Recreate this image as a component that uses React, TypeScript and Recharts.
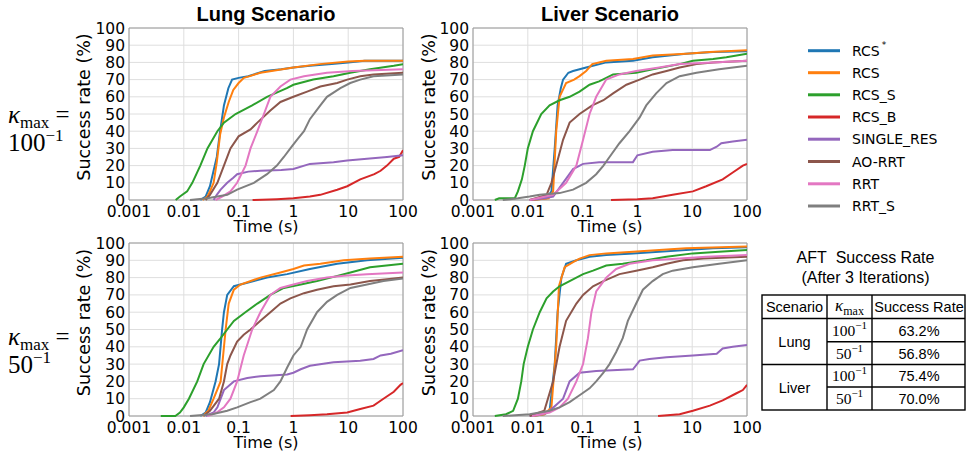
import React from 'react';
import { LineChart, Line, XAxis, YAxis, CartesianGrid, ReferenceArea } from 'recharts';

type Pt = [number, number];

const SERIES_NAMES = ['RCS*', 'RCS', 'RCS_S', 'RCS_B', 'SINGLE_RES', 'AO-RRT', 'RRT', 'RRT_S'];
const SERIES_COLORS = ['#1f77b4', '#ff7f0e', '#2ca02c', '#d62728', '#9467bd', '#8c564b', '#e377c2', '#7f7f7f'];
const X_TICKS = [0.001, 0.01, 0.1, 1, 10, 100];
const Y_TICKS = [0, 10, 20, 30, 40, 50, 60, 70, 80, 90, 100];
const COLUMN_TITLES = ['Lung Scenario', 'Liver Scenario'];
const ROW_KAPPA = ['100', '50'];
const TABLE_SCENARIOS = ['Lung', 'Liver'];
const TABLE_KAPPA = ['100', '50', '100', '50'];
const TABLE_RATES = ['63.2%', '56.8%', '75.4%', '70.0%'];

// ---------- Lung, kappa_max = 100^-1 ----------
const LUNG100_RCS_STAR: Pt[] = [[0.02,0],[0.025,2],[0.03,8],[0.04,25],[0.046,40],[0.054,55],[0.065,65],[0.076,70],[0.1,71],[0.15,72],[0.3,75],[0.6,76],[1,77],[2,78],[5,79],[10,80],[20,81],[100,81]];
const LUNG100_RCS: Pt[] = [[0.022,0],[0.027,2],[0.03,5],[0.035,10],[0.04,22],[0.046,38],[0.054,48],[0.066,57],[0.08,64],[0.1,68],[0.125,71],[0.16,72],[0.25,74],[0.4,75],[1,77],[3,79],[10,80.5],[20,81],[100,81]];
const LUNG100_RCS_S: Pt[] = [[0.0071,0],[0.0085,2],[0.0115,5],[0.0143,10],[0.02,20],[0.027,30],[0.041,40],[0.054,45],[0.088,50],[0.177,55],[0.33,60],[0.76,65],[1,67],[2.3,70],[5.4,72],[10.9,74],[25,76],[68,78],[100,79]];
const LUNG100_RCS_B: Pt[] = [[0.18,0],[0.5,0.5],[1,1],[2,2],[3.1,3],[6.3,6],[9.6,8],[16.6,12],[30,15],[39,17],[51,20],[68,24],[85,25],[100,29]];
const LUNG100_SINGLE: Pt[] = [[0.035,0],[0.04,3],[0.047,6],[0.062,10],[0.08,13],[0.094,15],[0.15,16.5],[0.25,17],[0.6,17.5],[1,18],[2,21],[5.4,22],[9.6,23],[22,24],[51,25],[100,26]];
const LUNG100_AORRT: Pt[] = [[0.025,0],[0.03,3],[0.041,10],[0.054,20],[0.071,30],[0.1,37],[0.165,41],[0.22,45],[0.38,52],[0.58,57],[1,60],[1.78,63],[3.1,66],[6.3,68],[9.6,70],[16.6,72],[29,73],[100,74]];
const LUNG100_RRT: Pt[] = [[0.038,0],[0.05,2],[0.071,5],[0.094,10],[0.134,20],[0.165,30],[0.22,40],[0.29,50],[0.38,60],[0.58,66],[0.88,70],[1.56,72],[4.1,74],[12,75],[100,76]];
const LUNG100_RRT_S: Pt[] = [[0.013,0],[0.027,1],[0.062,3],[0.094,6],[0.19,10],[0.33,15],[0.5,20],[0.67,25],[0.88,30],[1.16,35],[1.56,40],[2,47],[3.1,55],[4.1,60],[7.2,65],[10.9,68],[16.6,70],[29,72],[100,73]];

// ---------- Liver, kappa_max = 100^-1 ----------
const LIVER100_RCS_STAR: Pt[] = [[0.012,0],[0.022,1],[0.027,5],[0.031,30],[0.035,55],[0.04,65],[0.044,70],[0.055,74],[0.067,75],[0.116,77],[0.27,80],[0.83,81],[1.9,83],[7.7,85],[24,86],[100,86.5]];
const LIVER100_RCS: Pt[] = [[0.012,0],[0.024,1],[0.029,5],[0.033,40],[0.038,60],[0.05,68],[0.07,70],[0.088,72],[0.116,75],[0.15,79],[0.27,81],[0.83,82],[1.9,84],[7.7,85],[21,86],[100,87]];
const LIVER100_RCS_S: Pt[] = [[0.0025,0],[0.003,1],[0.0058,1],[0.0066,5],[0.0078,12],[0.0088,20],[0.01,30],[0.0124,40],[0.0176,50],[0.025,55],[0.038,58],[0.058,60],[0.088,63],[0.134,67],[0.2,69],[0.27,71],[0.36,73],[0.95,74],[1.9,76],[5.9,79],[10.3,81],[24,82],[42,83],[100,85]];
const LIVER100_RCS_B: Pt[] = [[0.33,0],[1,0.5],[1.9,1],[4.4,3],[10.3,5],[18,8],[36,12],[55,16],[84,20],[100,21]];
const LIVER100_SINGLE: Pt[] = [[0.0108,0],[0.02,1],[0.029,2],[0.044,10],[0.067,18],[0.102,21],[0.2,22],[0.83,22],[1,26],[1.9,28],[4.4,29],[21,29],[28,31],[34,33],[55,34],[100,35]];
const LIVER100_AORRT: Pt[] = [[0.0108,0],[0.022,3],[0.027,10],[0.033,20],[0.044,35],[0.058,45],[0.088,50],[0.15,55],[0.24,58],[0.36,62],[0.63,67],[1.1,70],[1.9,73],[3.4,75],[5.9,77],[12,79],[24,80],[100,81]];
const LIVER100_RRT: Pt[] = [[0.0108,0],[0.029,3],[0.05,10],[0.077,20],[0.102,35],[0.134,50],[0.177,60],[0.27,70],[0.47,73],[0.95,75],[2.5,77],[5.9,79],[24,80],[100,81]];
const LIVER100_RRT_S: Pt[] = [[0.0035,0],[0.0066,1],[0.0108,2],[0.0165,3],[0.038,4],[0.067,6],[0.116,10],[0.177,15],[0.24,20],[0.31,25],[0.47,33],[0.72,40],[1.1,48],[1.45,55],[2.2,62],[3.4,68],[5.9,72],[12,74],[31,76],[100,78]];

// ---------- Lung, kappa_max = 50^-1 ----------
const LUNG50_RCS_STAR: Pt[] = [[0.02,0],[0.025,2],[0.03,8],[0.038,20],[0.044,30],[0.05,50],[0.054,60],[0.062,70],[0.082,75],[0.144,77],[0.33,80],[0.77,82],[2,85],[6.3,88],[22,90],[100,91.5]];
const LUNG50_RCS: Pt[] = [[0.022,0],[0.028,3],[0.035,10],[0.047,20],[0.058,50],[0.066,65],[0.082,73],[0.108,76],[0.25,80],[0.58,83],[1,85],[1.56,87],[3.1,88],[8.3,90],[25,91],[100,92]];
const LUNG50_RCS_S: Pt[] = [[0.0038,0],[0.007,0],[0.0085,2],[0.01,5],[0.0124,10],[0.0176,20],[0.023,30],[0.035,40],[0.047,45],[0.062,50],[0.082,55],[0.133,60],[0.22,65],[0.38,70],[0.67,74],[1.36,76],[2.7,78],[4.8,80],[11,83],[25,86],[100,88]];
const LUNG50_RCS_B: Pt[] = [[0.89,0],[2,0.5],[4.1,1],[9.6,2],[16.6,4],[29,6],[44,10],[68,14],[90,18],[100,19]];
const LUNG50_SINGLE: Pt[] = [[0.025,0],[0.035,2],[0.041,5],[0.054,15],[0.082,20],[0.144,22],[0.25,23],[0.77,24],[1,25],[1.36,27],[2,29],[5.4,31],[16.6,32],[29,33],[39,35],[60,36],[100,38]];
const LUNG50_AORRT: Pt[] = [[0.023,0],[0.03,3],[0.044,10],[0.054,20],[0.062,30],[0.071,35],[0.094,43],[0.124,47],[0.165,50],[0.25,55],[0.38,60],[0.58,65],[0.88,68],[1.56,71],[2.7,73],[5.4,75],[11,76],[25,78],[51,79],[100,80]];
const LUNG50_RRT: Pt[] = [[0.027,0],[0.04,2],[0.054,5],[0.071,10],[0.094,20],[0.124,35],[0.177,50],[0.25,60],[0.38,70],[0.58,74],[1,76],[1.78,78],[4.1,80],[8.3,81],[22,82],[100,83]];
const LUNG50_RRT_S: Pt[] = [[0.013,0],[0.033,1],[0.062,3],[0.094,5],[0.165,8],[0.25,10],[0.44,15],[0.58,20],[0.77,28],[1,35],[1.36,40],[1.78,50],[2.7,60],[4.1,66],[6.3,70],[11,74],[22,76],[44,78],[100,79.5]];

// ---------- Liver, kappa_max = 50^-1 ----------
const LIVER50_RCS_STAR: Pt[] = [[0.012,0],[0.02,1],[0.025,3],[0.031,30],[0.035,60],[0.041,80],[0.05,88],[0.077,90],[0.134,92],[0.27,93],[0.83,94],[2.5,95],[7.7,96],[24,97],[100,97.5]];
const LIVER50_RCS: Pt[] = [[0.012,0],[0.02,1],[0.027,5],[0.033,40],[0.037,75],[0.047,86],[0.067,89],[0.088,91],[0.134,93],[0.27,94],[0.83,95],[2.5,96],[7.7,97],[100,98]];
const LIVER50_RCS_S: Pt[] = [[0.0025,0],[0.004,1],[0.0054,3],[0.0066,10],[0.0076,20],[0.0084,30],[0.01,40],[0.0124,50],[0.0165,60],[0.022,68],[0.029,72],[0.038,75],[0.058,78],[0.102,82],[0.155,84],[0.27,87],[0.54,88],[1.45,90],[3.4,92],[10.3,94],[31,95],[100,96]];
const LIVER50_RCS_B: Pt[] = [[2.38,0],[5.9,1],[10.3,3],[21,6],[36,9],[63,13],[84,15],[100,18]];
const LIVER50_SINGLE: Pt[] = [[0.0108,0],[0.018,1],[0.025,3],[0.044,10],[0.058,20],[0.088,25],[0.177,26],[0.83,27],[1.1,32],[1.66,33],[3.4,34],[10.3,35],[28,36],[36,39],[55,40],[100,41]];
const LIVER50_AORRT: Pt[] = [[0.0108,0],[0.02,3],[0.029,20],[0.038,40],[0.05,55],[0.077,65],[0.102,70],[0.155,75],[0.24,78],[0.47,82],[0.95,84],[1.9,86],[3.4,88],[6.8,90],[16,91],[100,92]];
const LIVER50_RRT: Pt[] = [[0.012,0],[0.025,2],[0.038,5],[0.054,10],[0.077,20],[0.102,30],[0.125,45],[0.145,60],[0.177,72],[0.27,80],[0.41,85],[0.72,88],[1.9,90],[5.9,91],[18,92],[100,93]];
const LIVER50_RRT_S: Pt[] = [[0.0035,0],[0.0108,1],[0.025,3],[0.038,5],[0.058,8],[0.088,12],[0.134,16],[0.177,20],[0.24,25],[0.31,30],[0.41,37],[0.54,45],[0.67,55],[0.95,65],[1.26,73],[1.9,78],[2.9,82],[4.4,84],[10.3,86],[31,88],[100,90]];

const LUNG100 = [LUNG100_RCS_STAR, LUNG100_RCS, LUNG100_RCS_S, LUNG100_RCS_B, LUNG100_SINGLE, LUNG100_AORRT, LUNG100_RRT, LUNG100_RRT_S];
const LIVER100 = [LIVER100_RCS_STAR, LIVER100_RCS, LIVER100_RCS_S, LIVER100_RCS_B, LIVER100_SINGLE, LIVER100_AORRT, LIVER100_RRT, LIVER100_RRT_S];
const LUNG50 = [LUNG50_RCS_STAR, LUNG50_RCS, LUNG50_RCS_S, LUNG50_RCS_B, LUNG50_SINGLE, LUNG50_AORRT, LUNG50_RRT, LUNG50_RRT_S];
const LIVER50 = [LIVER50_RCS_STAR, LIVER50_RCS, LIVER50_RCS_S, LIVER50_RCS_B, LIVER50_SINGLE, LIVER50_AORRT, LIVER50_RRT, LIVER50_RRT_S];

const MPL = '"DejaVu Sans", sans-serif';
const HELV = '"Liberation Sans", Arial, sans-serif';
const SERIF = '"Liberation Serif", "Times New Roman", serif';

const ML = 50;
const MR = 28;
const PW = 274;
const PH = 172;

function Panel({ left, top, series, h }: { left: number; top: number; series: Pt[][]; h: number }) {
  const tickStyle = { fontSize: 15.5, fill: '#000', fontFamily: MPL };
  return (
    <div style={{ position: 'absolute', left: left - ML, top: top - 10 }}>
      <LineChart width={ML + PW + MR} height={h + 10 + 30} margin={{ top: 10, right: MR, bottom: 0, left: 0 }}>
        <CartesianGrid stroke="#dedede" strokeWidth={1} />
        <XAxis
          dataKey="x"
          type="number"
          scale="log"
          domain={[0.001, 100]}
          ticks={X_TICKS}
          interval={0}
          allowDataOverflow
          tickFormatter={(v: number) => String(v)}
          tick={tickStyle}
          tickLine={false}
          axisLine={false}
          tickSize={4}
          tickMargin={2}
          height={30}
        />
        <YAxis
          type="number"
          domain={[0, 100]}
          ticks={Y_TICKS}
          interval={0}
          width={ML}
          tick={tickStyle}
          tickLine={false}
          axisLine={false}
          tickSize={2}
          tickMargin={2}
        />
        <ReferenceArea x1={0.001} x2={100} y1={0} y2={100} fill="none" fillOpacity={0} stroke="#9a9a9a" strokeWidth={1} ifOverflow="visible" />
        {series.map((d, i) => (
          <Line
            key={SERIES_NAMES[i]}
            name={SERIES_NAMES[i]}
            data={d.map(([x, y]) => ({ x, y }))}
            dataKey="y"
            type="linear"
            stroke={SERIES_COLORS[i]}
            strokeWidth={2}
            dot={false}
            activeDot={false}
            isAnimationActive={false}
          />
        ))}
      </LineChart>
    </div>
  );
}

function KappaLabel({ y1, y2, val }: { y1: number; y2: number; val: string }) {
  return (
    <g fontFamily={SERIF} fill="#000">
      <text x={8} y={y1} fontSize={25}>
        <tspan fontStyle="italic">κ</tspan>
        <tspan fontSize={17} dy={5}>max</tspan>
        <tspan dy={-5}> =</tspan>
      </text>
      <text x={8} y={y2} fontSize={25}>
        <tspan>{val}</tspan>
        <tspan fontSize={17} dy={-10}>−1</tspan>
      </text>
    </g>
  );
}

export default function App() {
  const legendY = [50.7, 72.7, 94.8, 117, 139.2, 161.5, 183.8, 206];
  const tL = 762, tR = 965, c1 = 827, c2 = 872;
  const hTop = 295, hBot = 318.5, r1 = 341.7, r2 = 364.5, r3 = 387, bot = 410;
  const rowBase = [336, 358.5, 381, 403.5];
  return (
    <div style={{ position: 'absolute', left: 0, top: 0, width: 967, height: 454, background: '#fff', overflow: 'hidden' }}>
      <Panel left={129} top={28} series={LUNG100} h={PH} />
      <Panel left={473} top={28} series={LIVER100} h={PH} />
      <Panel left={129} top={243} series={LUNG50} h={PH + 1} />
      <Panel left={473} top={243} series={LIVER50} h={PH + 1} />
      <svg width={967} height={454} style={{ position: 'absolute', left: 0, top: 0, pointerEvents: 'none' }}>
        <text x={266} y={21} textAnchor="middle" fontFamily={HELV} fontWeight="bold" fontSize={20}>{COLUMN_TITLES[0]}</text>
        <text x={610} y={21} textAnchor="middle" fontFamily={HELV} fontWeight="bold" fontSize={20}>{COLUMN_TITLES[1]}</text>
        {[[266, 232], [610, 232], [266, 448], [610, 448]].map(([x, y], i) => (
          <text key={'t' + i} x={x} y={y} textAnchor="middle" fontFamily={MPL} fontSize={16}>Time (s)</text>
        ))}
        {[[84, 107], [428.5, 107], [84, 322.5], [428.5, 322.5]].map(([x, y], i) => (
          <text key={'s' + i} x={x} y={y} textAnchor="middle" dominantBaseline="central" fontFamily={MPL} fontSize={17.5} transform={`rotate(-90 ${x} ${y})`}>Success rate (%)</text>
        ))}
        <KappaLabel y1={123} y2={151} val={ROW_KAPPA[0]} />
        <KappaLabel y1={345} y2={373} val={ROW_KAPPA[1]} />
        {SERIES_NAMES.map((n, i) => (
          <g key={n}>
            <line x1={808} x2={840} y1={legendY[i]} y2={legendY[i]} stroke={SERIES_COLORS[i]} strokeWidth={3} />
            <text x={852} y={legendY[i]} dominantBaseline="central" fontFamily={MPL} fontSize={14}>
              {n === 'RCS*' ? (<><tspan>RCS</tspan><tspan fontSize={9} dy={-6} dx={2}>*</tspan></>) : n}
            </text>
          </g>
        ))}
        <text x={865.5} y={263} textAnchor="middle" fontFamily={HELV} fontSize={16}>{'AFT\u00a0 Success Rate'}</text>
        <text x={865.5} y={283} textAnchor="middle" fontFamily={HELV} fontSize={16}>(After 3 Iterations)</text>
        <g stroke="#000" strokeWidth={1.4} fill="none">
          <rect x={tL} y={hTop} width={tR - tL} height={bot - hTop} />
          <line x1={tL} x2={tR} y1={hBot} y2={hBot} />
          <line x1={tL} x2={tR} y1={r2} y2={r2} />
          <line x1={c1} x2={tR} y1={r1} y2={r1} />
          <line x1={c1} x2={tR} y1={r3} y2={r3} />
          <line x1={c1} x2={c1} y1={hTop} y2={bot} />
          <line x1={c2} x2={c2} y1={hTop} y2={bot} />
        </g>
        <text x={794.5} y={312} textAnchor="middle" fontFamily={HELV} fontSize={14.5}>Scenario</text>
        <text x={849.5} y={311} textAnchor="middle" fontFamily={SERIF} fontSize={17}>
          <tspan fontStyle="italic">κ</tspan>
          <tspan fontSize={12} dy={4}>max</tspan>
        </text>
        <text x={919} y={312} textAnchor="middle" fontFamily={HELV} fontSize={14.5}>Success Rate</text>
        <text x={794.5} y={347} textAnchor="middle" fontFamily={HELV} fontSize={14.5}>{TABLE_SCENARIOS[0]}</text>
        <text x={794.5} y={393} textAnchor="middle" fontFamily={HELV} fontSize={14.5}>{TABLE_SCENARIOS[1]}</text>
        {TABLE_KAPPA.map((k, i) => (
          <text key={'k' + i} x={849.5} y={rowBase[i]} textAnchor="middle" fontFamily={SERIF} fontSize={15.5}>
            <tspan>{k}</tspan>
            <tspan fontSize={11} dy={-7}>−1</tspan>
          </text>
        ))}
        {TABLE_RATES.map((r, i) => (
          <text key={'r' + i} x={919} y={rowBase[i]} textAnchor="middle" fontFamily={HELV} fontSize={14.5}>{r}</text>
        ))}
      </svg>
    </div>
  );
}
